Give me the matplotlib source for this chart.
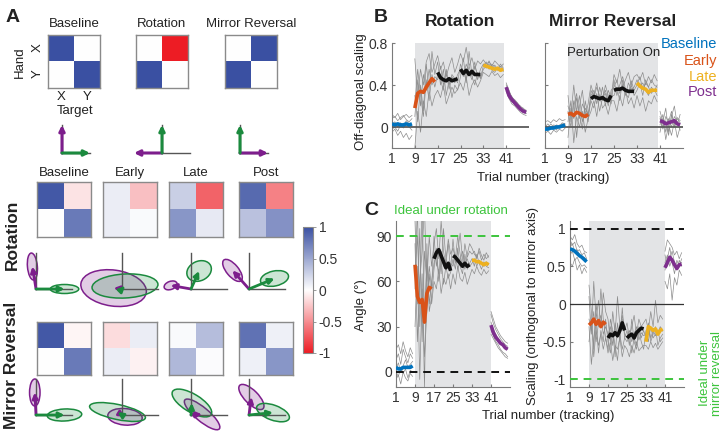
import numpy as np
import matplotlib.pyplot as plt
from matplotlib.colors import LinearSegmentedColormap, Normalize, to_rgba
from matplotlib.cm import ScalarMappable
from matplotlib.patches import Ellipse

plt.rcParams['font.family'] = ['Liberation Sans', 'DejaVu Sans']
plt.rcParams['font.size'] = 9.5
plt.rcParams['text.color'] = '#222222'

# ---------------- data ----------------
trials = np.arange(1, 49)
block_edges = [0, 8, 16, 24, 32, 40, 48]
seg_colors = ['#0072BD', '#D95319', '#111111', '#111111', '#EDB120', '#7E2F8E']
phase_names = ['Baseline', 'Early', 'Late', 'Post']
phase_colors = ['#0072BD', '#D95319', '#EDB120', '#7E2F8E']
trial_ticks = [1, 9, 17, 25, 33, 41]

# hand-by-target matrices (rows: hand X/Y, cols: target X/Y)
ideal_mats = [[[1, 0], [0, 1]], [[0, -1], [1, 0]], [[0, 1], [1, 0]]]
ideal_titles = ['Baseline', 'Rotation', 'Mirror Reversal']

rot_mats = [[[0.95, -0.12], [0.00, 0.75]],
            [[0.10, -0.28], [0.10, 0.03]],
            [[0.27, -0.68], [0.60, 0.12]],
            [[0.85, -0.55], [0.35, 0.62]]]
mir_mats = [[[0.95, -0.04], [0.00, 0.75]],
            [[-0.15, 0.10], [0.10, -0.06]],
            [[0.03, 0.37], [0.40, 0.02]],
            [[0.80, 0.08], [0.08, 0.60]]]

# variability ellipses (major, minor, angle) around the X-target (green) and Y-target (purple) vectors
rot_green_ell = [(0.95, 0.30, 0), (2.2, 0.80, 3), (0.85, 0.65, 25), (0.95, 0.50, 12)]
rot_purple_ell = [(0.90, 0.33, 95), (2.2, 1.20, -8), (0.45, 0.27, 20), (0.90, 0.40, -50)]
mir_green_ell = [(1.15, 0.40, 3), (1.9, 0.50, -12), (1.5, 0.60, -31), (1.15, 0.50, -20)]
mir_purple_ell = [(0.90, 0.35, 90), (1.15, 0.55, -5), (1.5, 0.45, -40), (1.10, 0.45, -45)]

# B: off-diagonal scaling, group mean
b_rot_mean = [0.03, 0.02, 0.03, 0.02, 0.02, 0.03, 0.02, 0.03,
              0.18, 0.32, 0.34, 0.33, 0.38, 0.42, 0.46, 0.43,
              0.52, 0.47, 0.45, 0.44, 0.46, 0.44, 0.45, 0.46,
              0.55, 0.51, 0.54, 0.50, 0.53, 0.50, 0.50, 0.50,
              0.59, 0.58, 0.57, 0.56, 0.55, 0.56, 0.54, 0.55,
              0.38, 0.30, 0.26, 0.23, 0.20, 0.17, 0.15, 0.14]
b_mir_mean = [-0.02, -0.02, -0.01, -0.01, 0.00, 0.00, 0.01, 0.02,
              0.12, 0.13, 0.11, 0.14, 0.13, 0.11, 0.10, 0.12,
              0.27, 0.29, 0.28, 0.27, 0.28, 0.26, 0.25, 0.30,
              0.35, 0.36, 0.36, 0.37, 0.35, 0.34, 0.34, 0.34,
              0.42, 0.39, 0.37, 0.36, 0.33, 0.35, 0.35, 0.35,
              0.06, 0.05, 0.03, 0.04, 0.05, 0.06, 0.03, 0.02]

# B: individual subjects
b_rot_subj = [
    [0.08, 0.10, 0.06, 0.09, 0.11, 0.07, 0.05, 0.08, 0.65, 0.30, 0.55, 0.40, 0.62, 0.70, 0.52, 0.60,
     0.68, 0.55, 0.62, 0.48, 0.58, 0.66, 0.52, 0.60, 0.70, 0.62, 0.76, 0.58, 0.66, 0.55, 0.63, 0.60,
     0.64, 0.60, 0.62, 0.58, 0.63, 0.60, 0.57, 0.60, 0.40, 0.33, 0.29, 0.25, 0.22, 0.20, 0.17, 0.16],
    [-0.05, -0.02, -0.08, -0.04, -0.10, -0.06, -0.12, -0.08, -0.20, 0.15, -0.05, 0.25, 0.10, 0.35, 0.20, 0.30,
     0.35, 0.28, 0.40, 0.22, 0.30, 0.38, 0.32, 0.36, 0.42, 0.35, 0.48, 0.30, 0.40, 0.45, 0.38, 0.44,
     0.52, 0.50, 0.48, 0.53, 0.49, 0.51, 0.47, 0.50, 0.34, 0.27, 0.22, 0.20, 0.17, 0.14, 0.12, 0.11],
    [0.02, 0.05, 0.00, 0.04, 0.01, 0.06, 0.03, 0.00, 0.10, 0.45, 0.20, 0.50, 0.35, 0.55, 0.40, 0.48,
     0.45, 0.58, 0.40, 0.52, 0.36, 0.48, 0.42, 0.50, 0.55, 0.48, 0.60, 0.52, 0.45, 0.58, 0.50, 0.47,
     0.58, 0.62, 0.55, 0.60, 0.57, 0.54, 0.58, 0.53, 0.37, 0.30, 0.24, 0.22, 0.19, 0.16, 0.15, 0.13],
    [0.12, 0.09, 0.13, 0.07, 0.10, 0.12, 0.09, 0.11, 0.30, 0.05, 0.40, 0.15, 0.60, 0.35, 0.72, 0.50,
     0.62, 0.40, 0.55, 0.30, 0.45, 0.28, 0.40, 0.35, 0.48, 0.66, 0.42, 0.72, 0.50, 0.62, 0.45, 0.55,
     0.60, 0.56, 0.63, 0.57, 0.59, 0.55, 0.60, 0.56, 0.42, 0.35, 0.28, 0.26, 0.23, 0.19, 0.18, 0.15],
    [-0.02, 0.00, -0.04, 0.02, -0.01, 0.03, 0.00, -0.03, 0.20, 0.55, 0.30, 0.10, 0.45, 0.25, 0.50, 0.38,
     0.50, 0.45, 0.35, 0.55, 0.40, 0.50, 0.46, 0.42, 0.60, 0.52, 0.45, 0.58, 0.48, 0.40, 0.52, 0.46,
     0.55, 0.58, 0.60, 0.54, 0.52, 0.57, 0.53, 0.55, 0.36, 0.28, 0.25, 0.21, 0.18, 0.17, 0.14, 0.13],
]
b_mir_subj = [
    [0.05, 0.06, 0.04, 0.07, 0.05, 0.08, 0.06, 0.07, 0.30, 0.05, 0.25, -0.10, 0.20, 0.35, 0.10, 0.22,
     0.40, 0.30, 0.42, 0.25, 0.38, 0.20, 0.35, 0.28, 0.50, 0.42, 0.55, 0.38, 0.45, 0.52, 0.40, 0.48,
     0.50, 0.45, 0.52, 0.40, 0.48, 0.42, 0.50, 0.44, 0.15, 0.05, 0.18, -0.05, 0.10, 0.20, 0.02, 0.12],
    [-0.06, -0.04, -0.07, -0.03, -0.05, -0.02, -0.04, -0.01, 0.05, 0.25, -0.15, 0.10, 0.00, 0.15, -0.05, 0.08,
     0.15, 0.25, 0.10, 0.30, 0.18, 0.22, 0.12, 0.25, 0.25, 0.15, 0.30, 0.20, 0.35, 0.22, 0.28, 0.18,
     0.30, 0.20, 0.28, 0.15, 0.25, 0.22, 0.30, 0.24, -0.05, 0.08, -0.12, 0.02, -0.08, 0.05, -0.10, 0.00],
    [0.02, -0.01, 0.03, 0.00, 0.02, 0.01, 0.04, 0.03, 0.20, 0.10, 0.40, 0.15, 0.30, 0.05, 0.18, 0.12,
     0.30, 0.35, 0.22, 0.38, 0.28, 0.32, 0.20, 0.35, 0.38, 0.45, 0.32, 0.40, 0.30, 0.42, 0.36, 0.38,
     0.45, 0.38, 0.42, 0.35, 0.30, 0.38, 0.34, 0.40, 0.08, -0.02, 0.10, 0.05, 0.15, 0.00, 0.08, 0.04],
    [-0.03, 0.00, -0.02, 0.01, -0.03, 0.02, 0.00, 0.01, -0.10, 0.18, 0.08, 0.28, 0.12, -0.02, 0.25, 0.10,
     0.25, 0.18, 0.32, 0.15, 0.28, 0.35, 0.24, 0.30, 0.30, 0.38, 0.25, 0.45, 0.32, 0.28, 0.40, 0.30,
     0.35, 0.42, 0.30, 0.45, 0.38, 0.32, 0.36, 0.30, 0.02, 0.12, -0.05, 0.08, 0.00, 0.10, 0.05, -0.03],
    [0.00, 0.03, -0.01, 0.02, 0.01, 0.00, 0.03, 0.02, 0.15, 0.00, 0.20, 0.32, 0.08, 0.22, 0.15, 0.05,
     0.35, 0.28, 0.38, 0.30, 0.25, 0.40, 0.30, 0.22, 0.45, 0.30, 0.40, 0.48, 0.36, 0.32, 0.44, 0.35,
     0.40, 0.48, 0.36, 0.42, 0.38, 0.45, 0.40, 0.38, 0.10, 0.00, 0.06, -0.08, 0.12, 0.03, 0.09, 0.06],
]

# C: rotation angle (deg) and scaling orthogonal to mirror axis
c_ang_mean = [3, 2, 2, 3, 3, 3, 3, 4,
              71, 50, 46, 48, 33, 52, 56, 55,
              75, 79, 81, 77, 73, 69, 72, 67,
              77, 76, 74, 72, 70, 72, 70, 71,
              74, 74, 73, 73, 72, 71, 72, 71,
              31, 26, 23, 21, 19, 18, 16, 15]
c_scl_mean = [0.73, 0.72, 0.70, 0.67, 0.64, 0.62, 0.59, 0.56,
              -0.28, -0.25, -0.20, -0.27, -0.22, -0.30, -0.24, -0.27,
              -0.45, -0.40, -0.42, -0.38, -0.42, -0.35, -0.25, -0.35,
              -0.45, -0.42, -0.40, -0.45, -0.38, -0.35, -0.32, -0.33,
              -0.50, -0.30, -0.32, -0.35, -0.33, -0.40, -0.35, -0.33,
              0.48, 0.55, 0.62, 0.58, 0.52, 0.47, 0.52, 0.53]
c_ang_subj = [
    [8, 12, 5, 15, 10, 6, 12, 9, 100, 45, 95, 20, 80, 60, 90, 70,
     85, 95, 75, 100, 80, 70, 88, 78, 82, 75, 90, 78, 70, 85, 76, 80,
     78, 80, 75, 82, 77, 74, 79, 76, 38, 32, 28, 25, 22, 20, 18, 17],
    [-5, -2, -8, 0, -4, -6, -1, -3, 30, 70, -5, 55, 10, 40, 65, 45,
     60, 55, 68, 52, 62, 58, 65, 55, 65, 58, 70, 62, 60, 66, 58, 63,
     68, 65, 70, 66, 64, 68, 65, 67, 28, 24, 20, 18, 15, 13, 12, 10],
    [2, 6, 0, 4, 8, 3, 5, 7, 65, 90, 50, 110, 35, 75, 45, 60,
     72, 78, 65, 80, 70, 75, 68, 72, 70, 78, 68, 74, 80, 72, 75, 70,
     72, 75, 70, 74, 72, 70, 73, 71, 33, 28, 25, 22, 20, 18, 16, 15],
    [15, 18, 12, 20, 14, 10, 16, 12, 85, 20, 60, 80, 110, 50, 70, 55,
     90, 70, 82, 65, 95, 75, 85, 68, 88, 72, 80, 92, 75, 68, 78, 85,
     82, 78, 76, 80, 74, 78, 75, 77, 40, 35, 30, 27, 24, 22, 20, 19],
    [0, -3, 3, -1, 2, -4, 1, 0, 55, 110, 30, 65, -10, 85, 40, 50,
     68, 82, 60, 75, 58, 70, 62, 66, 75, 68, 82, 70, 65, 78, 68, 72,
     75, 70, 78, 72, 68, 73, 70, 69, 25, 22, 19, 16, 14, 12, 10, 9],
]
c_scl_subj = [
    [0.90, 0.85, 0.92, 0.80, 0.75, 0.78, 0.70, 0.68, 0.10, -0.40, 0.30, -0.20, 0.05, -0.30, 0.15, -0.10,
     -0.20, -0.50, -0.10, -0.40, 0.10, -0.30, -0.15, -0.35, -0.25, -0.45, -0.30, -0.15, -0.40, -0.20, -0.30, -0.25,
     -0.20, -0.35, -0.10, -0.30, 0.05, -0.25, -0.15, -0.20, 0.70, 0.85, 0.80, 0.75, 0.65, 0.70, 0.60, 0.68],
    [0.55, 0.50, 0.60, 0.45, 0.52, 0.40, 0.48, 0.42, -0.50, -0.20, -0.70, -0.35, -0.55, -0.40, -0.60, -0.45,
     -0.65, -0.50, -0.75, -0.55, -0.60, -0.45, -0.70, -0.55, -0.60, -0.70, -0.55, -0.65, -0.50, -0.62, -0.58, -0.55,
     -0.55, -0.60, -0.50, -0.58, -0.52, -0.60, -0.55, -0.50, 0.30, 0.20, 0.40, 0.05, 0.35, 0.25, 0.45, 0.38],
    [0.75, 0.80, 0.70, 0.72, 0.65, 0.60, 0.62, 0.58, -0.20, -0.35, -0.10, -0.50, -0.25, -0.15, -0.40, -0.30,
     -0.40, -0.30, -0.55, -0.25, -0.45, -0.35, -0.20, -0.40, -0.45, -0.35, -0.50, -0.40, -0.30, -0.48, -0.38, -0.42,
     -0.40, -0.30, -0.45, -0.35, -0.42, -0.38, -0.30, -0.36, 0.55, 0.65, 0.50, 0.60, 0.55, 0.48, 0.52, 0.55],
    [0.65, 0.70, 0.58, 0.62, 0.55, 0.50, 0.52, 0.48, 0.25, -0.10, -0.60, 0.00, -0.30, 0.20, -0.20, -0.45,
     -0.60, -0.20, -0.35, -0.70, -0.25, -0.50, -0.05, -0.45, -0.35, -0.55, -0.20, -0.50, -0.60, -0.30, -0.45, -0.35,
     -0.45, -0.25, -0.50, -0.40, -0.30, -0.55, -0.45, -0.40, 0.45, 0.60, 0.75, 0.55, 0.40, 0.58, 0.50, 0.60],
    [0.85, 0.78, 0.82, 0.70, 0.72, 0.65, 0.68, 0.60, -0.30, -0.80, -0.45, -0.25, -0.65, -0.35, -0.50, -0.20,
     -0.50, -0.65, -0.35, -0.55, -0.75, -0.40, -0.60, -0.45, -0.50, -0.40, -0.65, -0.45, -0.55, -0.35, -0.50, -0.60,
     -0.35, -0.50, -0.30, -0.45, -0.40, -0.35, -0.50, -0.45, 0.65, 0.50, 0.60, 0.70, 0.55, 0.45, 0.58, 0.50],
]

# ---------------- style ----------------
GREEN = '#1b8a3e'
PURPLE = '#7d1e8c'
IDEAL_GREEN = '#3cc43c'
GREY_AX = '#7a7a7a'
cmap = LinearSegmentedColormap.from_list('bwr_m', ['#ED1C24', '#ffffff', '#3A50A2'])

W, H = 726, 434
fig = plt.figure(figsize=(W / 100, H / 100), dpi=100)


def add_px(x0, y0, x1, y1):
    return fig.add_axes([x0 / W, 1 - y1 / H, (x1 - x0) / W, (y1 - y0) / H])


def ftext(x, y, s, **kw):
    kw.setdefault('ha', 'center')
    kw.setdefault('va', 'center')
    fig.text(x / W, 1 - y / H, s, **kw)


def draw_matrix(ax, m):
    ax.imshow(np.array(m), cmap=cmap, vmin=-1, vmax=1, aspect='auto')
    ax.set_xticks([])
    ax.set_yticks([])
    for s in ax.spines.values():
        s.set_color('#8a8a8a')
        s.set_linewidth(1)


def vec_panel(ox, oy, m, scale, g_ell=None, p_ell=None, axlen=1.2, lw=2.0):
    xl, xr, yb, yt = -1.7, 1.7, -1.2, 1.4
    ax = add_px(ox + xl * scale, oy - yt * scale, ox + xr * scale, oy - yb * scale)
    ax.set_xlim(xl, xr)
    ax.set_ylim(yb, yt)
    ax.patch.set_visible(False)
    ax.set_xticks([])
    ax.set_yticks([])
    for s in ['top', 'right']:
        ax.spines[s].set_visible(False)
    for s in ['left', 'bottom']:
        ax.spines[s].set_position(('data', 0))
        ax.spines[s].set_bounds(0, axlen)
        ax.spines[s].set_color('#555555')
        ax.spines[s].set_linewidth(1.0)
    m = np.array(m, dtype=float)
    g, p = m[:, 0], m[:, 1]
    for tip, e, c in [(p, p_ell, PURPLE), (g, g_ell, GREEN)]:
        if e is not None:
            ax.add_patch(Ellipse(tip, e[0], e[1], angle=e[2], fc=to_rgba(c, 0.22),
                                 ec=c, lw=1.1, clip_on=False, zorder=2))
    for tip, c in [(p, PURPLE), (g, GREEN)]:
        ax.annotate('', xy=tip, xytext=(0, 0), annotation_clip=False,
                    arrowprops=dict(arrowstyle='-|>', color=c, lw=lw, mutation_scale=8,
                                    shrinkA=0, shrinkB=0), zorder=4)
    return ax


def trace_panel(ax, subjects, mean, ylim, yticks, span, show_ylabels=True):
    ax.axvspan(span[0], span[1], color='#e3e4e6', lw=0, zorder=0)
    for s in subjects:
        s = np.array(s, dtype=float)
        for a, b in [(0, 8), (8, 40), (40, 48)]:
            ax.plot(trials[a:b], s[a:b], color='#8c8c8c', lw=0.5, zorder=2)
    mean = np.array(mean, dtype=float)
    for k in range(6):
        a, b = block_edges[k], block_edges[k + 1]
        ax.plot(trials[a:b], mean[a:b], color=seg_colors[k], lw=2.6, zorder=5,
                solid_capstyle='butt', solid_joinstyle='round')
    ax.set_xlim(1, 49)
    ax.set_ylim(*ylim)
    ax.set_xticks(trial_ticks)
    ax.set_yticks(yticks)
    if not show_ylabels:
        ax.set_yticklabels([])
    for s in ['top', 'right']:
        ax.spines[s].set_visible(False)
    for s in ['left', 'bottom']:
        ax.spines[s].set_color(GREY_AX)
        ax.spines[s].set_linewidth(0.8)
    ax.tick_params(direction='in', length=2.5, width=0.8, color=GREY_AX,
                   labelsize=10, labelcolor='#333333', pad=3)


# ---------------- panel A ----------------
ftext(13, 18, 'A', fontsize=14, fontweight='bold')

top_x = [48, 136, 225]
for x0, m, t in zip(top_x, ideal_mats, ideal_titles):
    ax = add_px(x0, 35, x0 + 52, 88)
    draw_matrix(ax, m)
    ftext(x0 + 26, 24, t)
# axis labels of the first ideal matrix
ftext(61, 97, 'X')
ftext(87, 97, 'Y')
ftext(38, 48, 'X', rotation=90)
ftext(38, 74, 'Y', rotation=90)
ftext(75, 111, 'Target')
ftext(20, 62, 'Hand', rotation=90)

for ox, m in zip([62, 162, 240], ideal_mats):
    vec_panel(ox, 153, m, 28, axlen=1.0, lw=2.2)

mat_x = [37, 103, 169, 239]
origin_x = [36, 122, 191, 249]
for i in range(4):
    ftext(mat_x[i] + 27, 173, phase_names[i])
    draw_matrix(add_px(mat_x[i], 182, mat_x[i] + 54, 237), rot_mats[i])
    draw_matrix(add_px(mat_x[i], 322, mat_x[i] + 54, 375), mir_mats[i])
for i in range(4):
    vec_panel(origin_x[i], 289, rot_mats[i], 30, rot_green_ell[i], rot_purple_ell[i])
for i in range(4):
    vec_panel(origin_x[i], 415, mir_mats[i], 30, mir_green_ell[i], mir_purple_ell[i])

ftext(12, 235, 'Rotation', rotation=90, fontsize=12.5, fontweight='bold')
ftext(12, 365, 'Mirror Reversal', rotation=90, fontsize=12.5, fontweight='bold')

cax = add_px(303, 227, 313, 353)
cb = fig.colorbar(ScalarMappable(norm=Normalize(-1, 1), cmap=cmap), cax=cax)
cb.set_ticks([1, 0.5, 0, -0.5, -1])
cb.set_ticklabels(['1', '0.5', '0', '-0.5', '-1'])
cb.outline.set_edgecolor('#8a8a8a')
cb.outline.set_linewidth(0.8)
cax.tick_params(length=2, width=0.6, color='#8a8a8a', labelsize=10, labelcolor='#333333', pad=2)

# ---------------- panel B ----------------
ftext(381, 18, 'B', fontsize=14, fontweight='bold')
axb1 = add_px(392, 43, 529, 148)
trace_panel(axb1, b_rot_subj, b_rot_mean, (-0.2, 0.8), [0, 0.4, 0.8], (9, 40.3))
axb1.set_yticklabels(['0', '0.4', '0.8'])
axb1.axhline(0, color='#5a5a5a', lw=1.3, zorder=3)
axb2 = add_px(545, 43, 683, 148)
trace_panel(axb2, b_mir_subj, b_mir_mean, (-0.2, 0.8), [0, 0.4, 0.8], (9, 40.3), show_ylabels=False)
axb2.axhline(0, color='#5a5a5a', lw=1.3, zorder=3)

ftext(460, 22, 'Rotation', fontsize=12.5, fontweight='bold')
ftext(613, 22, 'Mirror Reversal', fontsize=12.5, fontweight='bold')
ftext(614, 53, 'Perturbation On')
for name, c, y in zip(phase_names, phase_colors, [44, 61, 77, 92]):
    ftext(717, y, name, color=c, ha='right', fontsize=10.5)
ftext(361, 92, 'Off-diagonal scaling', rotation=90)
ftext(543, 178, 'Trial number (tracking)')

# ---------------- panel C ----------------
ftext(371, 211, 'C', fontsize=14, fontweight='bold')
axc1 = add_px(396, 221, 510, 387)
trace_panel(axc1, c_ang_subj, c_ang_mean, (-10, 100), [0, 30, 60, 90], (9, 41))
axc1.axhline(90, color=IDEAL_GREEN, ls='--', dashes=(4, 3), lw=1.4, zorder=3)
axc1.axhline(0, color='#111111', ls='--', dashes=(4, 3), lw=1.4, zorder=3)
ftext(451, 211, 'Ideal under rotation', color=IDEAL_GREEN)
ftext(361, 305, 'Angle (°)', rotation=90)

axc2 = add_px(570, 221, 684, 387)
trace_panel(axc2, c_scl_subj, c_scl_mean, (-1.1, 1.1), [-1, -0.5, 0, 0.5, 1], (9, 41))
axc2.set_yticklabels(['-1', '-0.5', '0', '0.5', '1'])
axc2.axhline(1, color='#111111', ls='--', dashes=(4, 3), lw=1.4, zorder=3)
axc2.axhline(-1, color=IDEAL_GREEN, ls='--', dashes=(4, 3), lw=1.4, zorder=3)
axc2.axhline(0, color='#333333', lw=0.9, zorder=3)
ftext(533, 306, 'Scaling (orthogonal to mirror axis)', rotation=90)
ftext(711, 373, 'Ideal under\nmirror reversal', rotation=90, color=IDEAL_GREEN,
      linespacing=1.0)
ftext(548, 416, 'Trial number (tracking)')

fig.savefig('out.png', dpi=100)
